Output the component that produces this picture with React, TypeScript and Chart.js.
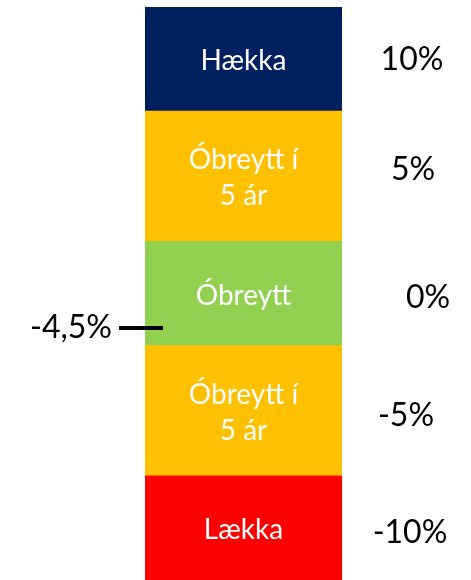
import React, { useEffect, useRef } from 'react';
import { Chart, registerables } from 'chart.js';

Chart.register(...registerables);

// Data (bottom to top)
const categories = [''];
const segmentLines = [['Lækka'], ['Óbreytt í', '5 ár'], ['Óbreytt'], ['Óbreytt í', '5 ár'], ['Hækka']];
const segmentHeights = [1, 1.25, 1, 1.25, 1];
const rangeLabels = ['-10%', '-5%', '0%', '5%', '10%'];
const currentLabel = '-4,5%';
const currentLevel = 2.42;

// Styles
const colors = ['#FF0000', '#FFC000', '#92D050', '#FFC000', '#002060'];
const rangeNudges = [
  { dx: -2, dy: 5 },
  { dx: -6, dy: 5 },
  { dx: 16, dy: 4 },
  { dx: 1, dy: -7 },
  { dx: 0, dy: 1 },
];
const FONT = 'Lato, "Open Sans", sans-serif';

const labelPlugin = {
  id: 'segmentLabels',
  afterDatasetsDraw(chart: any) {
    const ctx = chart.ctx;
    ctx.save();
    chart.data.datasets.forEach((_: any, i: number) => {
      const el = chart.getDatasetMeta(i).data[0];
      if (!el) return;
      const cy = (el.y + el.base) / 2 + 2;
      const lines = segmentLines[i];
      ctx.fillStyle = '#FFFFFF';
      ctx.font = `28px ${FONT}`;
      ctx.textAlign = 'center';
      ctx.textBaseline = 'middle';
      const lh = 36;
      lines.forEach((ln: string, k: number) => {
        ctx.fillText(ln, el.x, cy + (k - (lines.length - 1) / 2) * lh);
      });
      ctx.fillStyle = '#000000';
      ctx.font = `32px ${FONT}`;
      const n = rangeNudges[i];
      ctx.fillText(rangeLabels[i], 412 + n.dx, cy - 2 + n.dy);
    });
    // current marker
    const y = chart.scales.y.getPixelForValue(currentLevel);
    ctx.strokeStyle = '#000000';
    ctx.lineWidth = 4;
    ctx.beginPath();
    ctx.moveTo(119, y);
    ctx.lineTo(163, y);
    ctx.stroke();
    ctx.fillStyle = '#000000';
    ctx.font = `32px ${FONT}`;
    ctx.textAlign = 'right';
    ctx.textBaseline = 'middle';
    ctx.fillText(currentLabel, 112, y);
    ctx.restore();
  },
};

export default function App() {
  const ref = useRef<HTMLCanvasElement | null>(null);
  useEffect(() => {
    if (!ref.current) return;
    const total = segmentHeights.reduce((a, b) => a + b, 0);
    const chart = new Chart(ref.current, {
      type: 'bar',
      data: {
        labels: categories,
        datasets: segmentHeights.map((h, i) => ({
          label: segmentLines[i].join(' '),
          data: [h],
          backgroundColor: colors[i],
          borderWidth: 0,
          barPercentage: 1,
          categoryPercentage: 1,
        })),
      },
      options: {
        animation: false,
        responsive: false,
        layout: { padding: { left: 145, right: 129, top: 7, bottom: 0 } },
        plugins: { legend: { display: false }, tooltip: { enabled: false } },
        scales: {
          x: { stacked: true, display: false },
          y: { stacked: true, display: false, min: 0, max: total },
        },
      },
      plugins: [labelPlugin],
    });
    return () => chart.destroy();
  }, []);
  return (
    <div style={{ position: 'absolute', left: 0, top: 0, width: 471, height: 580, background: '#fff' }}>
      <canvas ref={ref} width={471} height={580} style={{ display: 'block' }} />
    </div>
  );
}
